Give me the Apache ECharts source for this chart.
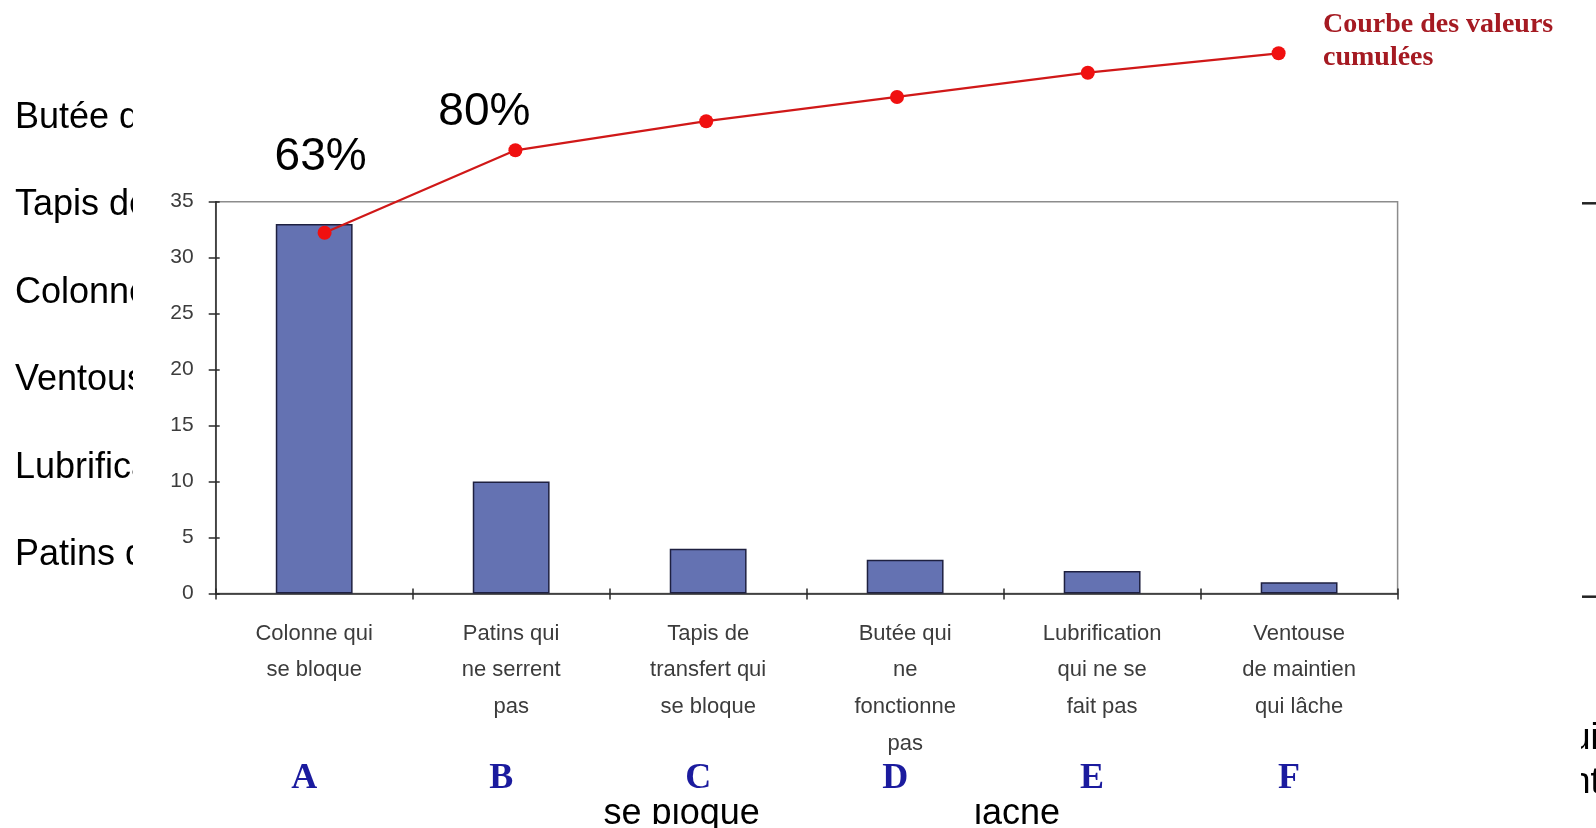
<!DOCTYPE html>
<html>
<head>
<meta charset="utf-8">
<script src="https://cdn.jsdelivr.net/npm/echarts@6/dist/echarts.min.js"></script>
<style>
  html, body { margin: 0; padding: 0; background: #ffffff; }
  #main { width: 1596px; height: 828px; }
</style>
</head>
<body>
<div id="main"></div>
<script>
// Pareto of press failures: counts per cause and cumulative share
const categories = [
  'Colonne qui\nse bloque',
  'Patins qui\nne serrent\npas',
  'Tapis de\ntransfert qui\nse bloque',
  'Butée qui\nne\nfonctionne\npas',
  'Lubrification\nqui ne se\nfait pas',
  'Ventouse\nde maintien\nqui lâche'
];
const codes = ['A', 'B', 'C', 'D', 'E', 'F'];
const counts = [33, 10, 4, 3, 2, 1];
const cumulative = [63, 80, 86, 91, 96, 100];
const calloutIndexes = [0, 1];
const legendLines = ['Courbe des valeurs', 'cumulées'];

// slide text lying under the chart picture
const slideItems = [
  'Butée qui ne fonctionne pas',
  'Tapis de transfert qui se bloque',
  'Colonne qui se bloque',
  'Ventouse de maintien qui lâche',
  'Lubrification qui ne se fait pas',
  'Patins qui ne serrent pas'
];
const slideBottom = ['se bloque', 'lâche'];
const slideRight = ['qui', 'nt'];

const SANS = '"Liberation Sans", Arial, sans-serif';
const SERIF = '"Liberation Serif", "Times New Roman", serif';

const chart = echarts.init(document.getElementById('main'), null, { renderer: 'canvas' });

const graphics = [];
slideItems.forEach((t, i) => {
  graphics.push({
    type: 'text', z: -20, x: 15, y: 118 + i * 87.5,
    style: { text: t, font: '36px ' + SANS, fill: '#000', verticalAlign: 'middle' }
  });
});
[603.6, 974].forEach((x, i) => {
  graphics.push({
    type: 'text', z: -20, x: x, y: 814,
    style: { text: slideBottom[i], font: '36px ' + SANS, fill: '#000', verticalAlign: 'middle' }
  });
});
[[1550.5, 739], [1570.5, 783]].forEach((p, i) => {
  graphics.push({
    type: 'text', z: -20, x: p[0], y: p[1],
    style: { text: slideRight[i], font: '36px ' + SANS, fill: '#000', verticalAlign: 'middle' }
  });
});
[203.3, 596.7].forEach((y) => {
  graphics.push({
    type: 'line', z: -20,
    shape: { x1: 1582, y1: y, x2: 1596, y2: y },
    style: { stroke: '#222', lineWidth: 2.5 }
  });
});
// white chart sheet over the slide
graphics.push({
  type: 'rect', z: -10,
  shape: { x: 133, y: 0, width: 1448, height: 804 },
  style: { fill: '#ffffff' }
});
legendLines.forEach((t, i) => {
  graphics.push({
    type: 'text', z: 10, x: 1323, y: 25 + i * 33,
    style: { text: t, font: 'bold 28px ' + SERIF, fill: '#a51a22', verticalAlign: 'middle' }
  });
});

const lineData = cumulative.map((v, i) => {
  const item = { value: v };
  if (calloutIndexes.includes(i)) {
    item.label = {
      show: true,
      position: 'top',
      offset: i === 0 ? [-4, -40] : [-31, -3],
      formatter: (p) => p.value + '%',
      fontFamily: SANS,
      fontSize: 46,
      color: '#000'
    };
  }
  return item;
});

const option = {
  backgroundColor: '#ffffff',
  animation: false,
  graphic: { elements: graphics },
  grid: [
    {
      left: 215.7, right: 198.4, top: 201.7, bottom: 234.6,
      show: true, borderColor: '#8c8c8c', borderWidth: 1.5,
      backgroundColor: 'transparent', outerBoundsMode: 'none'
    },
    {
      left: 229.2, right: 222, top: 53.3, bottom: 580.7,
      show: false, outerBoundsMode: 'none'
    }
  ],
  xAxis: [
    {
      type: 'category', gridIndex: 0, position: 'bottom', data: categories, boundaryGap: true,
      axisLine: { lineStyle: { color: '#2a2a2a', width: 1.5 } },
      axisTick: { show: true, length: 6, lineStyle: { color: '#2a2a2a', width: 1.5 } },
      axisLabel: {
        interval: 0, margin: 22, fontFamily: SANS, fontSize: 22, lineHeight: 36.6,
        color: '#3c3c3c', align: 'center'
      },
      splitLine: { show: false }
    },
    {
      type: 'category', gridIndex: 0, position: 'bottom', offset: 0, data: categories, boundaryGap: true,
      axisLine: { show: false },
      axisTick: { show: true, inside: true, length: 5, lineStyle: { color: '#2a2a2a', width: 1.5 } },
      axisLabel: { show: false },
      splitLine: { show: false }
    },
    {
      type: 'category', gridIndex: 0, position: 'bottom', offset: 0, data: codes, boundaryGap: true,
      axisLine: { show: false }, axisTick: { show: false },
      axisLabel: {
        interval: 0, margin: 167, fontFamily: SERIF, fontWeight: 'bold', fontSize: 36,
        color: '#1b1b9e', padding: [0, 20, 0, 0]
      },
      splitLine: { show: false }
    },
    {
      type: 'category', gridIndex: 1, data: codes, boundaryGap: true, show: false
    }
  ],
  yAxis: [
    {
      type: 'value', gridIndex: 0, position: 'left', min: 0, max: 35, interval: 5,
      axisLine: { show: true, lineStyle: { color: '#2a2a2a', width: 1.5 } },
      axisTick: { show: true, length: 7, lineStyle: { color: '#2a2a2a', width: 1.5 } },
      axisLabel: { margin: 22, fontFamily: SANS, fontSize: 21, color: '#3c3c3c' },
      splitLine: { show: false }
    },
    {
      type: 'value', gridIndex: 0, min: 0, max: 35, interval: 5, position: 'left', offset: 0,
      axisLine: { show: false },
      axisTick: { show: true, inside: true, length: 4, lineStyle: { color: '#2a2a2a', width: 1.5 } },
      axisLabel: { show: false },
      splitLine: { show: false }
    },
    {
      type: 'value', gridIndex: 1, min: 60, max: 100, show: false,
      splitLine: { show: false }
    }
  ],
  series: [
    {
      type: 'bar', xAxisIndex: 0, yAxisIndex: 0, data: counts,
      barWidth: '39%', z: 3,
      itemStyle: { color: '#6472b2', borderColor: '#1e2040', borderWidth: 1.5 }
    },
    {
      type: 'line', xAxisIndex: 3, yAxisIndex: 2, data: lineData,
      symbol: 'circle', symbolSize: 14, z: 6, clip: false,
      lineStyle: { color: '#d01818', width: 2.2 },
      itemStyle: { color: '#f01010' }
    }
  ]
};

chart.setOption(option);
</script>
</body>
</html>
